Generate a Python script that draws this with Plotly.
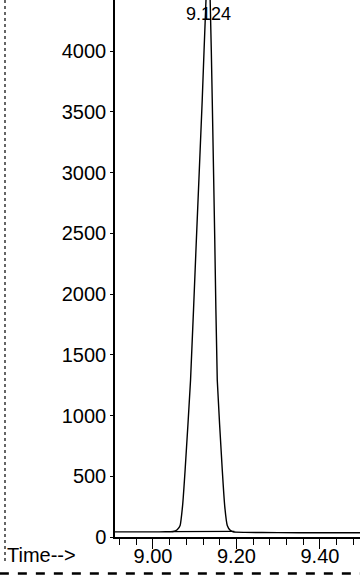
import plotly.graph_objects as go

# Chromatogram signal (time in min, abundance)
times = [8.909, 8.95, 9.00, 9.03, 9.048, 9.058, 9.065, 9.071, 9.077, 9.090, 9.104,
         9.118, 9.127, 9.132, 9.137, 9.142, 9.148, 9.154, 9.166, 9.172, 9.178,
         9.185, 9.192, 9.22, 9.30, 9.40, 9.496]
abund = [42, 42, 42, 43, 45, 60, 95, 260, 551, 1292, 2450,
         3597, 4420, 4680, 4420, 3597, 2450, 1292, 551, 250, 95,
         55, 42, 38, 36, 35, 35]

# Integration baseline under the peak
base_t = [9.045, 9.195]
base_y = [44, 46]

peak_label = "9.124"
peak_label_t = 9.133
peak_label_y = 4305

y_ticks = [0, 500, 1000, 1500, 2000, 2500, 3000, 3500, 4000]
x_ticks = [9.00, 9.20, 9.40]
x_ticklabels = ["9.00", "9.20", "9.40"]

FONT = "Liberation Sans, Arial, sans-serif"
XR = [8.909, 9.496]

fig = go.Figure()
fig.add_trace(go.Scatter(x=times, y=abund, mode="lines",
                         line=dict(color="black", width=1.4, shape="spline", smoothing=0.4),
                         hoverinfo="skip"))
fig.add_trace(go.Scatter(x=base_t, y=base_y, mode="lines",
                         line=dict(color="black", width=1.2), hoverinfo="skip"))
# invisible trace on the overlay axis that carries the long major ticks
fig.add_trace(go.Scatter(x=x_ticks, y=[0, 0, 0], xaxis="x2", mode="markers",
                         marker=dict(opacity=0), hoverinfo="skip"))

fig.update_layout(
    width=360, height=575,
    margin=dict(l=115, r=0, t=0, b=38),
    paper_bgcolor="white", plot_bgcolor="white",
    showlegend=False,
    font=dict(family=FONT, size=20, color="black"),
    xaxis=dict(range=XR, showgrid=False, zeroline=False, automargin=False,
               showline=True, linecolor="black", linewidth=1.5,
               tickmode="array", tickvals=x_ticks, ticktext=x_ticklabels,
               ticks="outside", ticklen=0, tickwidth=1.3, tickcolor="black",
               minor=dict(dtick=0.04, tick0=9.0, ticks="outside", ticklen=6,
                          tickwidth=1.2, tickcolor="black", showgrid=False),
               tickfont=dict(family=FONT, size=20, color="black")),
    xaxis2=dict(range=XR, overlaying="x", anchor="y", side="bottom",
                showgrid=False, zeroline=False, automargin=False, showline=False,
                tickmode="array", tickvals=x_ticks, showticklabels=False,
                ticks="outside", ticklen=11, tickwidth=1.4, tickcolor="black"),
    yaxis=dict(range=[0, 4420], showgrid=False, zeroline=False, automargin=False,
               showline=True, linecolor="black", linewidth=1.5,
               tickmode="array", tickvals=y_ticks,
               ticks="outside", ticklen=3, tickwidth=1.2, tickcolor="black",
               tickfont=dict(family=FONT, size=20, color="black")),
)

fig.add_annotation(x=peak_label_t, y=peak_label_y, xref="x", yref="y",
                   text=peak_label, showarrow=False,
                   font=dict(family=FONT, size=18, color="black"))

fig.add_annotation(x=-0.449, y=-0.033, xref="paper", yref="paper",
                   xanchor="left", yanchor="middle", text="Time-->",
                   showarrow=False, font=dict(family=FONT, size=20, color="black"))

# dotted left border and dashed bottom border of the scanned page
fig.add_shape(type="line", xref="paper", yref="paper",
              x0=-0.449, x1=-0.449, y0=1.0, y1=-0.045,
              line=dict(color="black", width=1.2, dash="dot"))
fig.add_shape(type="line", xref="paper", yref="paper",
              x0=-0.47, x1=1.0, y0=-0.068, y1=-0.068,
              line=dict(color="black", width=2.5, dash="dash"))

fig.write_html("out.html", config={"displayModeBar": False},
               post_script="document.body.style.margin='0';"
                           "document.body.style.overflow='hidden';")
